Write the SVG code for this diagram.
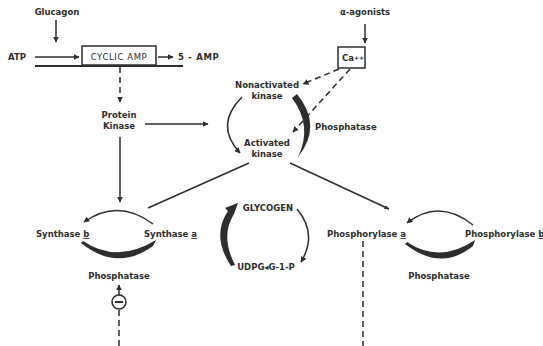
<svg xmlns="http://www.w3.org/2000/svg" width="543" height="346" viewBox="0 0 543 346">
<style>
text{font-family:"DejaVu Sans","Liberation Sans",sans-serif;font-weight:bold;font-size:8.5px;fill:#2e2e2e}
.ln{stroke:#2e2e2e;stroke-width:1.5;fill:none}
.dash{stroke:#2e2e2e;stroke-width:1.5;fill:none;stroke-dasharray:6,4}
.thick{fill:#2e2e2e;stroke:none}
.u{text-decoration:underline}
</style>
<defs>
<marker id="ah" viewBox="0 0 10 10" refX="9" refY="5" markerWidth="6" markerHeight="6" orient="auto" markerUnits="userSpaceOnUse">
<path d="M0,0 L10,5 L0,10 Z" fill="#2e2e2e"/>
</marker>
<marker id="ahs" viewBox="0 0 10 10" refX="9" refY="5" markerWidth="5" markerHeight="5" orient="auto" markerUnits="userSpaceOnUse">
<path d="M0,1 L10,5 L0,9 Z" fill="#2e2e2e"/>
</marker>
</defs>
<rect width="543" height="346" fill="#ffffff"/>

<g id="connectors">
<line class="ln" x1="56" y1="20" x2="56" y2="42" marker-end="url(#ah)"/>
<line class="ln" x1="35" y1="57" x2="79" y2="57" marker-end="url(#ah)"/>
<line class="ln" x1="158" y1="57" x2="173" y2="57" marker-end="url(#ah)"/>
<line x1="35" y1="66" x2="183" y2="66" stroke="#2e2e2e" stroke-width="2.2"/>
<line class="dash" x1="120" y1="67" x2="120" y2="102" marker-end="url(#ah)"/>
<line class="ln" x1="145" y1="124" x2="208" y2="124" marker-end="url(#ah)"/>
<line class="ln" x1="120" y1="137" x2="120" y2="202" marker-end="url(#ah)"/>
<line class="ln" x1="365" y1="24" x2="365" y2="43" marker-end="url(#ah)"/>
<line class="dash" x1="339" y1="69" x2="303" y2="84" marker-end="url(#ah)"/>
<line class="dash" x1="350" y1="69" x2="293" y2="132" marker-end="url(#ah)"/>
<path class="ln" d="M242,97 Q214,125 240,153" marker-end="url(#ah)"/>
<path class="thick" d="M297,94 Q323,126 298,157 Q313,126 292,98 Z"/>
<line class="ln" x1="249" y1="163" x2="148" y2="208"/>
<line class="ln" x1="290" y1="163" x2="389" y2="209" marker-end="url(#ahs)"/>
<path class="ln" d="M153,224 Q118,198 84,222" marker-end="url(#ah)"/>
<path class="thick" d="M81,243 Q117,272 153,246 L156,240 Q117,264 83,241 Z"/>
<path class="ln" d="M473,225 Q439,198 407,223" marker-end="url(#ah)"/>
<path class="thick" d="M405,244 Q441,272 473,246 L475,240 Q440,264 407,242 Z"/>
<path class="thick" d="M231,266 Q211,236 228,211 L225,208 L238,203 L234,214 Q220,236 235,265 Z"/>
<path class="ln" d="M297,209 Q318,234 301,262" marker-end="url(#ah)"/>
<line class="ln" x1="119" y1="295" x2="119" y2="285" marker-end="url(#ah)"/>
<line class="dash" x1="119" y1="310" x2="119" y2="346"/>
<line class="dash" x1="363" y1="241" x2="363" y2="346"/>
</g>

<g id="glucagon"><text x="57" y="15" text-anchor="middle">Glucagon</text></g>
<g id="atp"><text x="8" y="60">ATP</text></g>
<g id="cyclic-amp">
<rect x="82" y="46" width="74" height="19" fill="#fff" stroke="#2e2e2e" stroke-width="1.5"/>
<text x="119" y="60" text-anchor="middle" style="font-weight:normal;letter-spacing:0.6px">CYCLIC AMP</text>
</g>
<g id="five-amp"><text x="178" y="60" style="letter-spacing:0.7px">5 - AMP</text></g>
<g id="protein-kinase">
<text x="119" y="118" text-anchor="middle">Protein</text>
<text x="119" y="129" text-anchor="middle">Kinase</text>
</g>
<g id="alpha-agonists"><text x="365" y="15" text-anchor="middle">α-agonists</text></g>
<g id="ca">
<rect x="338" y="47" width="27" height="21" fill="#fff" stroke="#2e2e2e" stroke-width="1.5"/>
<text x="342" y="61">Ca<tspan font-size="6" dy="-1">++</tspan></text>
</g>
<g id="nonactivated-kinase">
<text x="267" y="88" text-anchor="middle">Nonactivated</text>
<text x="267" y="99" text-anchor="middle">kinase</text>
</g>
<g id="activated-kinase">
<text x="267" y="146" text-anchor="middle">Activated</text>
<text x="267" y="157" text-anchor="middle">kinase</text>
</g>
<g id="phosphatase-kinase"><text x="315" y="130">Phosphatase</text></g>
<g id="synthase-b"><text x="36" y="237">Synthase <tspan class="u">b</tspan></text></g>
<g id="synthase-a"><text x="144" y="237">Synthase <tspan class="u">a</tspan></text></g>
<g id="phosphatase-synthase"><text x="119" y="279" text-anchor="middle">Phosphatase</text></g>
<g id="inhibition">
<circle cx="119" cy="302" r="7" fill="#fff" stroke="#2e2e2e" stroke-width="1.5"/>
<line x1="115" y1="302" x2="123" y2="302" stroke="#2e2e2e" stroke-width="2"/>
</g>
<g id="glycogen"><text x="268" y="211" text-anchor="middle">GLYCOGEN</text></g>
<g id="udpg"><text x="266" y="270" text-anchor="middle">UDPG◂G-1-P</text></g>
<g id="phosphorylase-a"><text x="327" y="237">Phosphorylase <tspan class="u">a</tspan></text></g>
<g id="phosphorylase-b"><text x="465" y="237">Phosphorylase <tspan class="u">b</tspan></text></g>
<g id="phosphatase-phosphorylase"><text x="439" y="279" text-anchor="middle">Phosphatase</text></g>
</svg>
